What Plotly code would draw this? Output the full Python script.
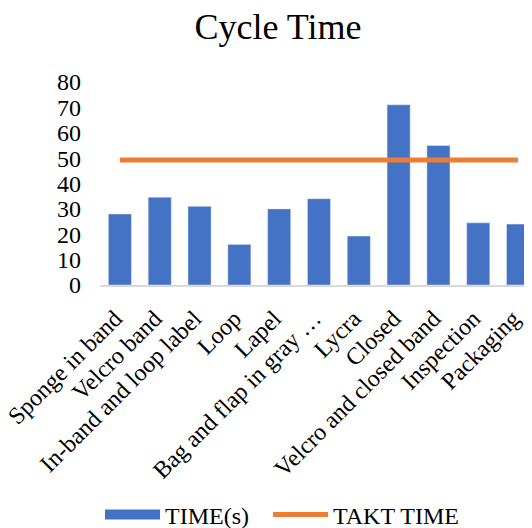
import plotly.graph_objects as go

categories = ["Sponge in band", "Velcro band", "In-band and loop label", "Loop", "Lapel",
              "Bag and flap in gray …", "Lycra", "Closed", "Velcro and closed band",
              "Inspection", "Packaging"]
time_s = [28, 34.6, 31, 16, 30, 34, 19.3, 71, 55, 24.5, 24]
takt_time = [49.3] * len(categories)

BLUE = "#4472C4"
ORANGE = "#ED7D31"
FONT = "Liberation Serif, Times New Roman, serif"

# page body has an 8px default margin, so the figure is sized to fit the window
W, H = 524, 520

fig = go.Figure()
fig.add_trace(go.Bar(x=categories, y=time_s, name="TIME(s)", marker_color=BLUE,
                     showlegend=False))
fig.add_trace(go.Scatter(x=categories, y=takt_time, name="TAKT TIME", mode="lines",
                         line=dict(color=ORANGE, width=5), showlegend=False))
# legend stand-ins
fig.add_trace(go.Scatter(x=[None], y=[None], name="TIME(s)", mode="lines",
                         line=dict(color=BLUE, width=12), legend="legend"))
fig.add_trace(go.Scatter(x=[None], y=[None], name="TAKT TIME", mode="lines",
                         line=dict(color=ORANGE, width=5), legend="legend2"))

legend_common = dict(orientation="h", y=-1.133, yanchor="middle", xanchor="left",
                     font=dict(size=24, family=FONT), itemwidth=55,
                     bgcolor="rgba(0,0,0,0)")

fig.update_layout(
    width=W, height=H,
    margin=dict(l=92, r=0, t=74, b=243, autoexpand=False),
    paper_bgcolor="white", plot_bgcolor="white",
    font=dict(family=FONT, size=24, color="black"),
    bargap=0.42,
    title=dict(text="Cycle Time", x=270 / W, xanchor="center", xref="container",
               y=1 - 18 / H, yref="container", yanchor="middle",
               font=dict(size=36, family=FONT, color="black")),
    legend=dict(x=0.0, **legend_common),
    legend2=dict(x=0.389, **legend_common),
    xaxis=dict(range=[-0.5, 10.35], tickangle=-45, showgrid=False, automargin=False,
               showline=True, linecolor="#d9d9d9", linewidth=2, ticks="",
               ticklabelstandoff=8, ticklabelshift=-5,
               tickfont=dict(size=24, family=FONT)),
    yaxis=dict(range=[0, 80], dtick=10, showgrid=False, zeroline=False, showline=False,
               automargin=False, ticks="", ticklabelstandoff=18,
               tickfont=dict(size=24, family=FONT)),
)

fig.write_html("out.html")
